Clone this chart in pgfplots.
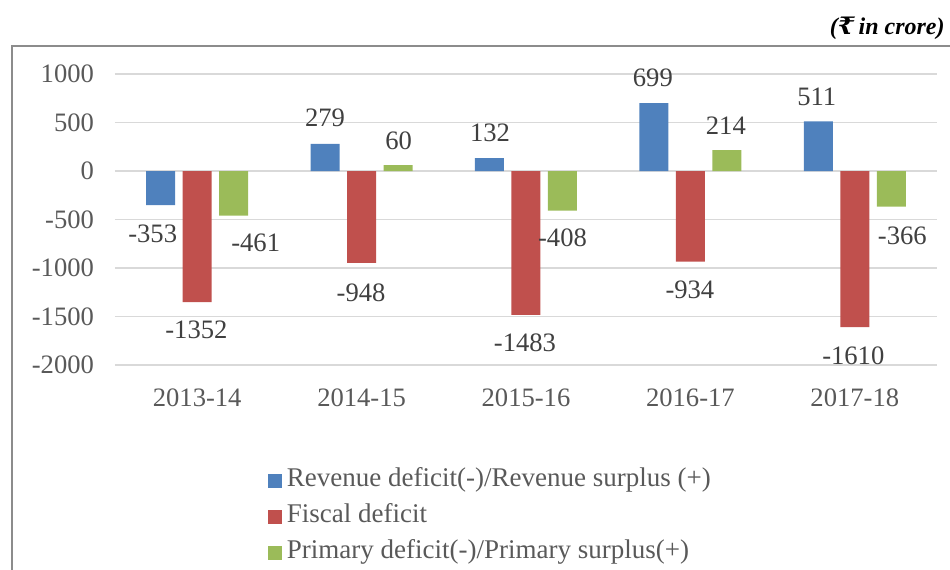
\documentclass[border=0pt]{standalone}
\usepackage{fontspec}
\setmainfont{Liberation Serif}
\newfontfamily\rupeefont{DejaVu Serif}
\usepackage{pgfplots}
\usepackage{pgfplotstable}
\pgfplotsset{compat=1.18}
\definecolor{cblue}{HTML}{4F81BD}
\definecolor{cred}{HTML}{C0504D}
\definecolor{cgreen}{HTML}{9BBB59}
\definecolor{ticktext}{HTML}{595959}
\definecolor{labeltext}{HTML}{404040}
\definecolor{gridc}{HTML}{D9D9D9}
\definecolor{framec}{HTML}{8C8C8C}

\pgfplotstableread{
x y label dx dy
0 -353 -353 -4 -14.4
1 279 279 0 13
2 132 132 0.25 12.85
3 699 699 -0.5 12.5
4 511 511 -0.75 12.2
}\revtab
\pgfplotstableread{
x y label dx dy
0 -1352 -1352 -0.4 -14
1 -948 -948 -0.25 -14.75
2 -1483 -1483 -0.5 -14
3 -934 -934 -0.25 -14.2
4 -1610 -1610 -0.75 -14.5
}\fistab
\pgfplotstableread{
x y label dx dy
0 -461 -461 11 -13.65
1 60 60 0.25 12
2 -408 -408 0 -13.7
3 214 214 -0.5 12.5
4 -366 -366 5.5 -14.75
}\pritab

\begin{document}
\begin{tikzpicture}
\clip (0,0) rectangle (475pt,284.5pt);
\draw[framec, line width=1pt] (6pt,-20pt) -- (6pt,261.5pt) -- (490pt,261.5pt);
\node[anchor=base east, inner sep=0pt, font=\fontsize{12}{14}\selectfont\bfseries\itshape] at (472.5pt,267pt) {({\rupeefont\bfseries ₹}\,in crore)};
\begin{axis}[
  at={(57.5pt,102pt)}, anchor=south west,
  scale only axis, width=411pt, height=145.5pt,
  ybar=3.75pt, bar width=14.5pt,
  xmin=-0.5, xmax=4.5, ymin=-2000, ymax=1000,
  xtick={0,1,2,3,4},
  xticklabels={2013-14,2014-15,2015-16,2016-17,2017-18},
  ytick={-2000,-1500,-1000,-500,0,500,1000},
  yticklabels={-2000,-1500,-1000,-500,0,500,1000},
  ymajorgrids, grid style={gridc, line width=0.75pt},
  axis line style={draw=none}, major tick length=0pt,
  tick label style={font=\fontsize{13.3}{16}\selectfont, text=ticktext},
  yticklabel style={xshift=-7pt},
  xticklabel style={yshift=-8.5pt},
  nodes near coords, point meta=explicit symbolic,
  visualization depends on={\thisrow{dx} \as \myDX},
  visualization depends on={\thisrow{dy} \as \myDY},
  every node near coord/.append style={font=\fontsize{13.3}{16}\selectfont, text=labeltext, anchor=center, xshift=\myDX pt, yshift=\myDY pt},
  every axis plot/.append style={draw=none},
  legend cell align=left,
  legend image code/.code={\fill[#1] (0pt,-4pt) rectangle (7pt,2.75pt);},
  legend style={at={(0.1861,-0.3495)}, anchor=north west, draw=none, fill=none,
    inner sep=0pt, outer sep=0pt, row sep=5pt, column sep=2.5pt,
    nodes={inner sep=0pt, text height=10pt, text depth=3pt, font=\fontsize{13.5}{16}\selectfont, text=ticktext}},
]
\addplot[fill=cblue] table[x=x, y=y, meta=label] {\revtab};
\addplot[fill=cred] table[x=x, y=y, meta=label] {\fistab};
\addplot[fill=cgreen] table[x=x, y=y, meta=label] {\pritab};
\legend{Revenue deficit(-)/Revenue surplus (+), Fiscal deficit, Primary deficit(-)/Primary surplus(+)}
\end{axis}
\end{tikzpicture}
\end{document}
